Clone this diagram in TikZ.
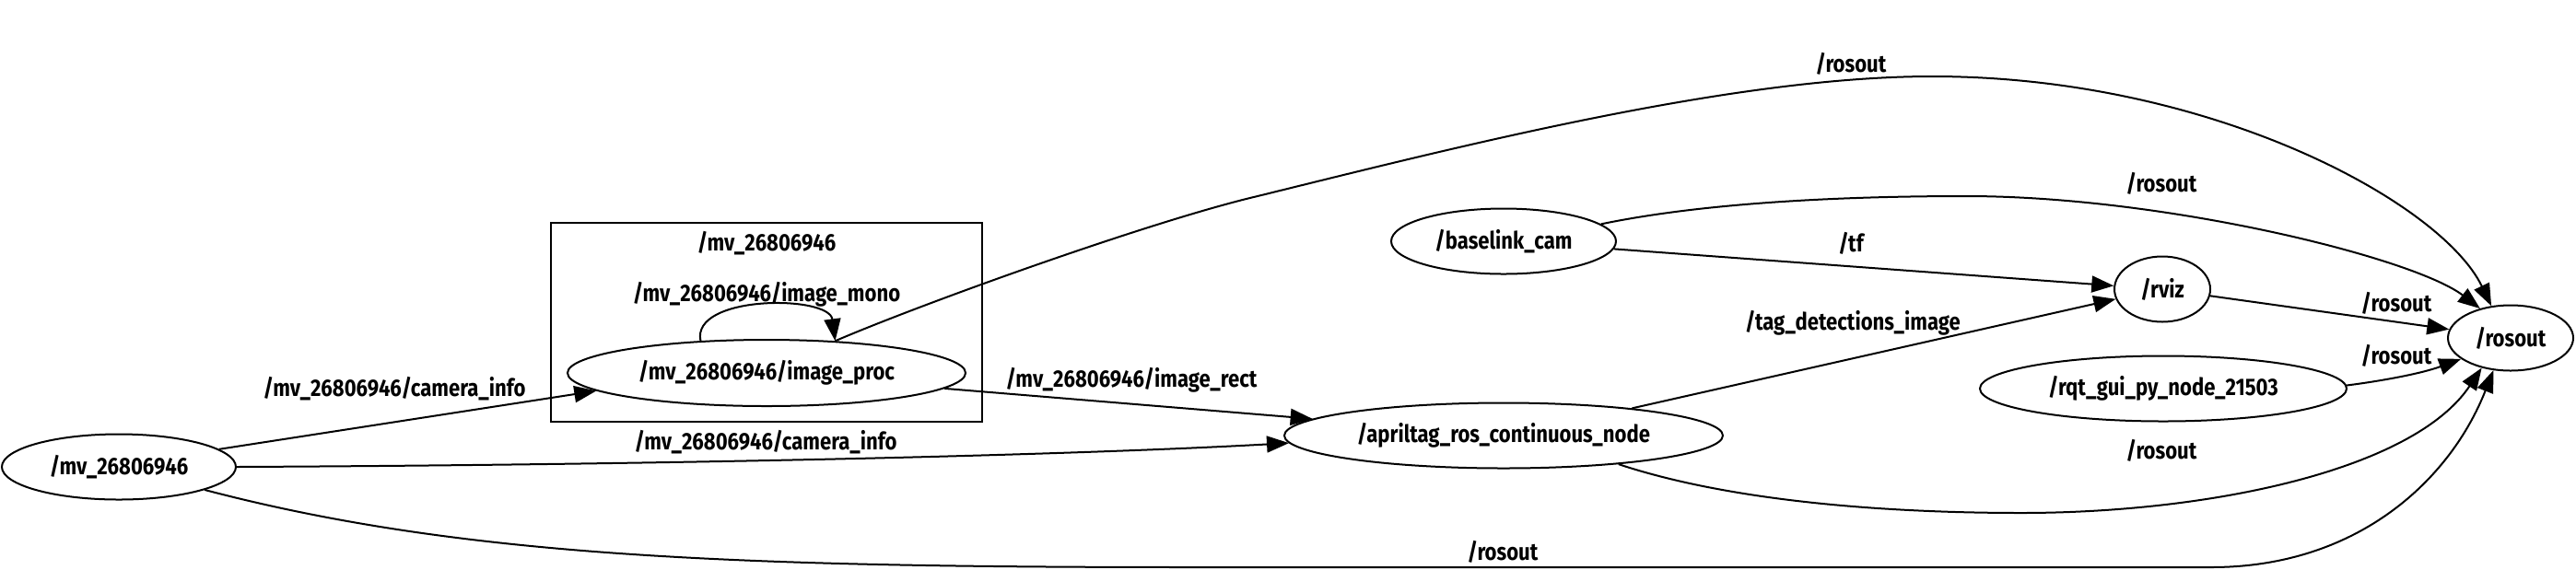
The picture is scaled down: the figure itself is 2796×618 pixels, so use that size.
\documentclass[tikz,border=0pt]{standalone}
\usepackage{fontspec}
\setmainfont{Fira Sans}[FakeStretch=0.85]
\usetikzlibrary{shapes.geometric,arrows.meta}
\begin{document}
\begin{tikzpicture}[x=0.5pt,y=-0.5pt,
  every node/.style={font=\fontsize{13pt}{15pt}\selectfont\bfseries},
  nd/.style={ellipse, draw, line width=1pt, inner sep=0pt, minimum height=35.5pt},
  lbl/.style={inner sep=0pt, text height=0.72em, text depth=0.2em},
  conn/.style={line width=1pt, -{Triangle[length=12pt,width=9pt]}}]
\useasboundingbox (0,0) rectangle (2796,618);
% cluster
\node (cl) [draw, line width=1pt, rectangle, inner sep=0pt, minimum width=234pt, minimum height=108pt] at (832,350) {};
\node (cllbl) [lbl] at (832,267) {/mv\_26806946};
% nodes
\node (mv) [nd, minimum width=127pt] at (129,507) {/mv\_26806946};
\node (ip) [nd, minimum width=216pt, minimum height=36pt] at (832,405) {/mv\_26806946/image\_proc};
\node (bl) [nd, minimum width=122pt] at (1632,262) {/baselink\_cam};
\node (rviz) [nd, minimum width=52pt] at (2347,314) {/rviz};
\node (ro) [nd, minimum width=68pt] at (2725,367) {/rosout};
\node (rqt) [nd, minimum width=199pt] at (2348,422) {/rqt\_gui\_py\_node\_21503};
\node (apr) [nd, minimum width=238pt] at (1632,473) {/apriltag\_ros\_continuous\_node};
% edges
\draw[conn] (mv.10.8) -- (ip.186);
\draw[conn] (mv.0) .. controls (700,505) and (1150,495) .. (apr.182.8);
\draw[conn] (mv.345.3) .. controls (500,605) and (800,616) .. (1300,616) -- (2400,616) .. controls (2560,616) and (2660,520) .. (ro.242);
\draw[conn] (ip.355) -- (apr.175.6);
\draw[conn] (ip.154) .. controls (750,320) and (900,320) .. (ip.25);
\draw[conn] (ip.25) .. controls (1000,330) and (1250,240) .. (1365,213) .. controls (1580,160) and (1880,83) .. (2097,83) .. controls (2400,83) and (2650,220) .. (ro.121);
\draw[conn] (bl.10) .. controls (1850,220) and (2000,213) .. (2134,213) .. controls (2350,213) and (2620,280) .. (ro.136);
\draw[conn] (bl.356) -- (rviz.176);
\draw[conn] (apr.12.7) -- (rviz.192);
\draw[conn] (rviz.352) -- (ro.172);
\draw[conn] (rqt.1) .. controls (2590,413) and (2630,405) .. (ro.203);
\draw[conn] (apr.346) .. controls (1880,545) and (2050,557) .. (2194,557) .. controls (2400,557) and (2620,510) .. (ro.226);
% edge labels
\node (l1) [lbl] at (832,322) {/mv\_26806946/image\_mono};
\node (l2) [lbl] at (428,425) {/mv\_26806946/camera\_info};
\node (l3) [lbl] at (831,483) {/mv\_26806946/camera\_info};
\node (l4) [lbl] at (1228,415) {/mv\_26806946/image\_rect};
\node (l5) [lbl] at (2009,268) {/tf};
\node (l6) [lbl] at (2011,353) {/tag\_detections\_image};
\node (l7) [lbl] at (2009,73) {/rosout};
\node (l8) [lbl] at (2346,203) {/rosout};
\node (l9) [lbl] at (2601,333) {/rosout};
\node (l10) [lbl] at (2601,390) {/rosout};
\node (l11) [lbl] at (2346,493) {/rosout};
\node (l12) [lbl] at (1631,603) {/rosout};
\end{tikzpicture}
\end{document}
